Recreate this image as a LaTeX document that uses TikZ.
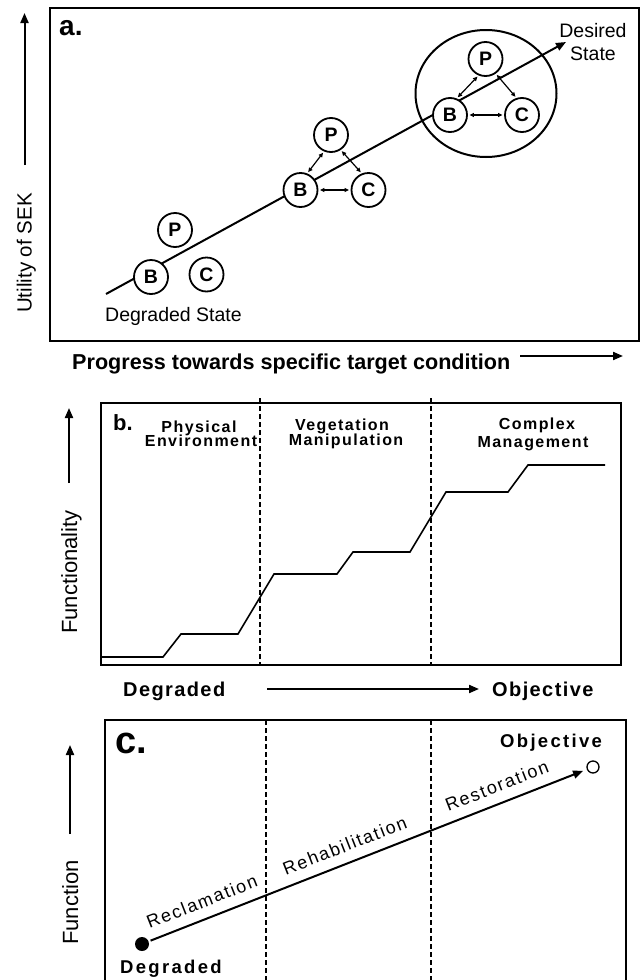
\documentclass[tikz,border=0pt]{standalone}
\usepackage{fontspec}
\setmainfont{Liberation Sans}
\usetikzlibrary{arrows.meta}
\newcommand{\trk}[1]{\addfontfeature{LetterSpace=#1}}
\begin{document}
\begin{tikzpicture}[x=1pt,y=-1pt,
  frame/.style={line width=2pt},
  sepline/.style={line width=1.3pt, dash pattern=on 5pt off 3pt},
  stepline/.style={line width=1.6pt, line join=miter},
  bigarrow/.style={line width=2pt,-{Triangle[length=10pt,width=8pt]}},
  dbl/.style={line width=1.2pt,{Triangle[length=4.5pt,width=4pt]}-{Triangle[length=4.5pt,width=4pt]}, shorten <=1.5pt, shorten >=1.5pt},
  agent/.style={circle,draw,fill=white,line width=1.8pt,minimum size=34pt,inner sep=0pt,font=\fontsize{19.5}{19.5}\selectfont\bfseries},
  txt/.style={inner sep=0pt, font=\fontsize{19.5}{23}\selectfont},
  axis/.style={inner sep=0pt, rotate=90, anchor=base, font=\fontsize{21}{21}\selectfont},
  panel/.style={inner sep=0pt, anchor=base west},
  phase/.style={inner sep=0pt, anchor=base, font=\fontsize{16}{16}\selectfont\bfseries\trk{9}},
  endlbl/.style={inner sep=0pt, anchor=base west, font=\fontsize{20}{20}\selectfont\bfseries\trk{7}},
  clbl/.style={inner sep=0pt, anchor=base west, font=\fontsize{18.5}{18.5}\selectfont\bfseries\trk{12.5}},
  along/.style={inner sep=0pt, sloped, anchor=south, yshift=10pt, font=\fontsize{18}{18}\selectfont\trk{9.5}}
]
\useasboundingbox (0,0) rectangle (640,980);
\clip (0,0) rectangle (640,980);

% ---------------- panel a ----------------
\draw[frame] (50,8) rectangle (638.5,341);
\node[panel, font=\fontsize{28}{28}\selectfont\bfseries] (la) at (59,35) {a.};

\coordinate (ua1) at (24.5,165);
\coordinate (ua2) at (24.5,13);
\draw[bigarrow] (ua1) -- (ua2);
\node[axis, font=\fontsize{20.5}{20.5}\selectfont] (util) at (31.5,253) {Utility of SEK};

\coordinate (ls) at (106,294);
\coordinate (le) at (566,42);
\draw[bigarrow] (ls) -- (le);

\draw[frame] (486,93.5) ellipse [x radius=70.5, y radius=63.5];

\node[agent] (B1) at (151,277) {B};
\node[agent] (C1) at (206.5,274.5) {C};
\node[agent] (P1) at (175,230) {P};

\node[agent] (B2) at (300.5,190) {B};
\node[agent] (C2) at (368.5,190) {C};
\node[agent] (P2) at (331,135) {P};

\node[agent] (B3) at (450,115) {B};
\node[agent] (C3) at (522,115) {C};
\node[agent] (P3) at (485.5,59) {P};

\draw[dbl] (B2.east) -- (C2.west);
\draw[dbl] (B2.68) -- (P2.247);
\draw[dbl] (P2.303) -- (C2.112);
\draw[dbl] (B3.east) -- (C3.west);
\draw[dbl] (B3.68) -- (P3.247);
\draw[dbl] (P3.305) -- (C3.108);

\node[txt, anchor=base west] (dgs) at (105,321) {Degraded State};
\node[txt, anchor=base] (des1) at (593,37) {Desired};
\node[txt, anchor=base] (des2) at (593,60) {State};

\node[panel, font=\fontsize{21.6}{21.6}\selectfont\bfseries] (prog) at (72,369.5) {Progress towards specific target condition};
\coordinate (pa1) at (520,356);
\coordinate (pa2) at (623,356);
\draw[bigarrow] (pa1) -- (pa2);

% ---------------- panel b ----------------
\draw[frame] (101,403) rectangle (621,665);
\coordinate (db1t) at (260,398);
\coordinate (db1b) at (260,665);
\coordinate (db2t) at (431,398);
\coordinate (db2b) at (431,665);
\draw[sepline] (db1t) -- (db1b);
\draw[sepline] (db2t) -- (db2b);
\node[panel, font=\fontsize{22}{22}\selectfont\bfseries] (lb) at (113,430) {b.};

\node[phase] (ph1a) at (199,432) {Physical};
\node[phase] (ph1b) at (201,446) {Environment};
\node[phase] (ph2a) at (342,430) {Vegetation};
\node[phase] (ph2b) at (346,445.5) {Manipulation};
\node[phase] (ph3a) at (537,429) {Complex};
\node[phase] (ph3b) at (533,447) {Management};

\draw[stepline] (101,657) -- (163,657) -- (181,634) -- (238,634) -- (274,574)
  -- (337,574) -- (353,552) -- (410,552) -- (446,492) -- (508,492)
  -- (528,465) -- (605,465);

\coordinate (fa1) at (69,483);
\coordinate (fa2) at (69,408);
\draw[bigarrow] (fa1) -- (fa2);
\node[axis, font=\fontsize{22}{22}\selectfont] (func) at (77,572) {Functionality};

\node[endlbl] (bdeg) at (123,696) {Degraded};
\node[endlbl] (bobj) at (492,696) {Objective};
\coordinate (ba1) at (267,689);
\coordinate (ba2) at (479,689);
\draw[bigarrow] (ba1) -- (ba2);

% ---------------- panel c ----------------
\draw[frame] (105,720) rectangle (626,995);
\coordinate (dc1t) at (266,720);
\coordinate (dc1b) at (266,985);
\coordinate (dc2t) at (431,720);
\coordinate (dc2b) at (431,985);
\draw[sepline] (dc1t) -- (dc1b);
\draw[sepline] (dc2t) -- (dc2b);
\node[panel, font=\fontsize{38}{38}\selectfont\bfseries] (lc) at (115,753) {c.};

\coordinate (ca1) at (70,834);
\coordinate (ca2) at (70,745);
\draw[bigarrow] (ca1) -- (ca2);
\node[axis, font=\fontsize{22}{22}\selectfont] (fn) at (78,902.5) {Function};

\node[circle, fill, inner sep=0pt, minimum size=14pt] (cdot) at (142,944) {};
\node[circle, draw, line width=1.3pt, fill=white, inner sep=0pt, minimum size=12pt] (cobj) at (593,767) {};
\draw[bigarrow, shorten <=2pt, shorten >=4pt] (cdot) -- (cobj)
  node[along, pos=0.136] (rec) {Reclamation}
  node[along, pos=0.462] (reh) {Rehabilitation}
  node[along, pos=0.809] (res) {Restoration};

\node[clbl] (cobjt) at (500,747) {Objective};
\node[clbl] (cdegt) at (120,973) {Degraded};
\end{tikzpicture}
\end{document}
